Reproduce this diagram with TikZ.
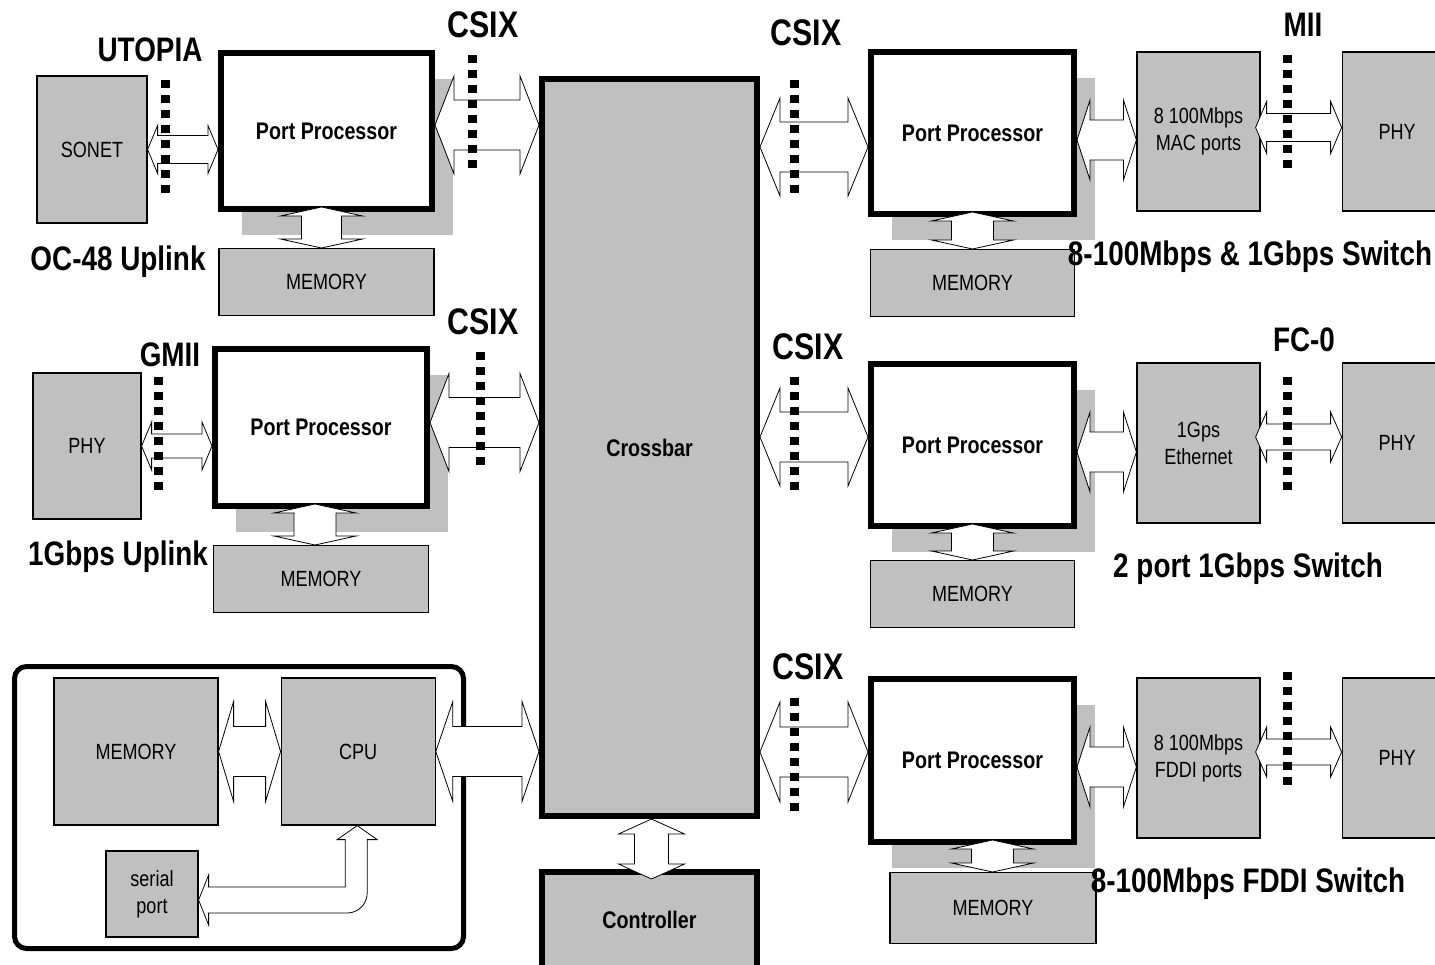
\documentclass[tikz,border=0pt]{standalone}
\usepackage{fontspec}
\setmainfont{Liberation Sans}[FakeStretch=0.82]
\usepackage{xcolor}
\usepackage{tikz}
\usetikzlibrary{calc,positioning,shadows}
\definecolor{boxgray}{HTML}{C0C0C0}

\newcommand{\hfat}[5]{%
  \draw[fatarrow] let \p1=(#1), \p2=(#2) in
    (\x1,\y1) -- (\x1+#3,\y1+#4) -- (\x1+#3,\y1+#5) -- (\x2-#3,\y1+#5)
    -- (\x2-#3,\y1+#4) -- (\x2,\y1) -- (\x2-#3,\y1-#4) -- (\x2-#3,\y1-#5)
    -- (\x1+#3,\y1-#5) -- (\x1+#3,\y1-#4) -- cycle;}
\newcommand{\vfat}[5]{%
  \draw[fatarrow] let \p1=(#1), \p2=(#2) in
    (\x1,\y1) -- (\x1+#4,\y1-#3) -- (\x1+#5,\y1-#3) -- (\x1+#5,\y2+#3)
    -- (\x1+#4,\y2+#3) -- (\x1,\y2) -- (\x1-#4,\y2+#3) -- (\x1-#5,\y2+#3)
    -- (\x1-#5,\y1-#3) -- (\x1-#4,\y1-#3) -- cycle;}

\begin{document}
\begin{tikzpicture}[
  x=1pt, y=-1pt,
  every node/.style={inner sep=0pt},
  unit/.style={draw=black, line width=1.2pt, fill=boxgray, align=center,
               font=\fontsize{22pt}{27pt}\selectfont},
  proc/.style={draw=black, line width=6pt, fill=white,
               font=\fontsize{24pt}{29pt}\selectfont\bfseries,
               drop shadow={shadow xshift=21pt, shadow yshift=-26pt, fill=boxgray, opacity=1}},
  core/.style={draw=black, line width=6pt, fill=boxgray,
               font=\fontsize{24pt}{29pt}\selectfont\bfseries},
  iface/.style={font=\fontsize{34pt}{40pt}\selectfont\bfseries, text depth=0pt},
  bus/.style={font=\fontsize{37pt}{44pt}\selectfont\bfseries, text depth=0pt},
  fatarrow/.style={draw=black, fill=white, line width=0.8pt},
  busdots/.style={line width=9pt, dash pattern=on 8pt off 7pt}
]
  \useasboundingbox[fill=white] (0,0) rectangle (1435,964);

  % uplinks and host
  \node[unit, minimum width=110pt, minimum height=147pt] (sonet) at (92,149.5) {SONET};
  \node[proc, minimum width=211pt, minimum height=156pt] (pp1) at (326.5,131) {Port Processor};
  \node[unit, minimum width=215pt, minimum height=67pt, below=36pt of pp1] (mem1) {MEMORY};
  \node[unit, minimum width=108pt, minimum height=146pt] (phy1) at (87,446) {PHY};
  \node[proc, minimum width=212pt, minimum height=157pt] (pp2) at (321,427.5) {Port Processor};
  \node[unit, minimum width=215pt, minimum height=67pt, below=36pt of pp2] (mem2) {MEMORY};
  \node[draw=black, line width=5pt, rounded corners=12pt, minimum width=449pt,
        minimum height=282pt] (host) at (239,807.5) {};
  \node[unit, minimum width=164pt, minimum height=147pt] (mem3) at (136,751.5) {MEMORY};
  \node[unit, minimum width=154pt, minimum height=147pt, right=62pt of mem3] (cpu) {CPU};
  \node[unit, minimum width=92pt, minimum height=86pt] (serial) at (152,894) {serial\\port};

  \node[core, minimum width=215pt, minimum height=737pt] (crossbar) at (649.5,447.5) {Crossbar};
  \node[core, minimum width=215pt, minimum height=96pt] (controller) at (649.5,920) {Controller};

  % switches
  \node[proc, minimum width=203pt, minimum height=162pt] (pp4) at (972.5,133) {Port Processor};
  \node[unit, minimum width=204pt, minimum height=67pt, below=32pt of pp4] (mem4) {MEMORY};
  \node[unit, minimum width=123pt, minimum height=159pt] (mac) at (1198.5,131.5) {8 100Mbps\\MAC ports};
  \node[unit, minimum width=110pt, minimum height=159pt, right=81pt of mac] (phy2) {PHY};
  \node[proc, minimum width=203pt, minimum height=162pt] (pp5) at (972.5,445) {Port Processor};
  \node[unit, minimum width=204pt, minimum height=67pt, below=31pt of pp5] (mem5) {MEMORY};
  \node[unit, minimum width=123pt, minimum height=160pt] (eth) at (1198.5,443) {1Gps\\Ethernet};
  \node[unit, minimum width=110pt, minimum height=160pt, right=81pt of eth] (phy3) {PHY};
  \node[proc, minimum width=203pt, minimum height=163pt] (pp6) at (972.5,760.5) {Port Processor};
  \node[unit, minimum width=206pt, minimum height=71pt, below=27pt of pp6, xshift=20.5pt] (mem6) {MEMORY};
  \node[unit, minimum width=123pt, minimum height=160pt] (fddi) at (1198.5,758) {8 100Mbps\\FDDI ports};
  \node[unit, minimum width=110pt, minimum height=160pt, right=81pt of fddi] (phy4) {PHY};

  \hfat{sonet.east}{pp1.west}{10pt}{24pt}{14pt}
  \hfat{[yshift=6pt]pp1.east}{crossbar.west}{19pt}{49pt}{25pt}
  \vfat{[xshift=-5pt,yshift=5pt]pp1.south}{mem1.north}{9pt}{41pt}{20pt}
  \hfat{phy1.east}{pp2.west}{10pt}{24pt}{12pt}
  \hfat{[yshift=5pt]pp2.east}{crossbar.west}{19pt}{49pt}{25pt}
  \vfat{[xshift=-6pt,yshift=5pt]pp2.south}{mem2.north}{9pt}{41pt}{21pt}
  \hfat{mem3.east}{cpu.west}{15pt}{50pt}{25pt}
  \hfat{cpu.east}{crossbar.west}{17pt}{50pt}{25pt}
  \draw[fatarrow] let \p1=([xshift=-1pt]cpu.south), \p2=([yshift=-6pt]serial.east) in
    (\x1,\y1) -- (\x1+20pt,\y1-14pt) -- (\x1+10pt,\y1-14pt) -- (\x1+10pt,\y2+7pt)
    arc[start angle=0, end angle=-90, radius=20pt] -- (\x2+10pt,\y2-13pt)
    -- (\x2+10pt,\y2-25pt) -- (\x2,\y2) -- (\x2+10pt,\y2+25pt) -- (\x2+10pt,\y2+13pt)
    -- (\x1-12pt,\y2+13pt) -- (\x1-12pt,\y1-14pt) -- (\x1-20pt,\y1-14pt) -- cycle;
  \vfat{[xshift=2pt]crossbar.south}{[yshift=-10pt]controller.north}{15pt}{33pt}{17pt}

  \hfat{$(pp4.west -| crossbar.east)+(0,14)$}{pp4.west}{20pt}{49pt}{25pt}
  \vfat{[yshift=5pt]pp4.south}{mem4.north}{9pt}{41pt}{21pt}
  \hfat{[yshift=-7pt]pp4.east}{mac.west}{13pt}{40pt}{20pt}
  \hfat{[xshift=-5pt,yshift=4pt]mac.east}{phy2.west}{11pt}{26pt}{14pt}
  \hfat{$(pp5.west -| crossbar.east)+(0,-8)$}{pp5.west}{20pt}{49pt}{25pt}
  \vfat{[yshift=5pt]pp5.south}{mem5.north}{9pt}{41pt}{21pt}
  \hfat{[yshift=-7pt]pp5.east}{eth.west}{13pt}{40pt}{20pt}
  \hfat{[xshift=-5pt,yshift=6pt]eth.east}{phy3.west}{11pt}{25pt}{13pt}
  \hfat{$(pp6.west -| crossbar.east)+(0,-8.5)$}{pp6.west}{20pt}{50pt}{25pt}
  \vfat{[xshift=20pt,yshift=5pt]pp6.south}{mem6.north}{9pt}{41pt}{21pt}
  \hfat{[yshift=-6.5pt]pp6.east}{fddi.west}{13pt}{40pt}{20pt}
  \hfat{[xshift=-5pt,yshift=6pt]fddi.east}{phy4.west}{11pt}{25pt}{13pt}

  \foreach \dx/\dy in {165/80, 472/55, 158/377, 480/352, 794/80,
                       1287/55, 794/377, 1287/377, 794/698, 1287/672}
    \draw[busdots] (\dx,\dy) -- ++(0,113);

  \node[iface] (utopia) at (150,50) {UTOPIA};
  \node[bus] (csixa) at (483,25) {CSIX};
  \node[iface] (oc48) at (118,258) {OC-48 Uplink};
  \node[iface] (gmii) at (170,355) {GMII};
  \node[bus] (csixb) at (483,322) {CSIX};
  \node[iface] (gbuplink) at (118,553) {1Gbps Uplink};
  \node[bus] (csixc) at (806,33) {CSIX};
  \node[iface] (mii) at (1303,25) {MII};
  \node[iface] (swmac) at (1250,253) {8-100Mbps \& 1Gbps Switch};
  \node[bus] (csixd) at (808,347) {CSIX};
  \node[iface] (fc) at (1304,340) {FC-0};
  \node[iface] (sweth) at (1248,565) {2 port 1Gbps Switch};
  \node[bus] (csixe) at (808,667) {CSIX};
  \node[iface] (swfddi) at (1248,880) {8-100Mbps FDDI Switch};
\end{tikzpicture}
\end{document}
